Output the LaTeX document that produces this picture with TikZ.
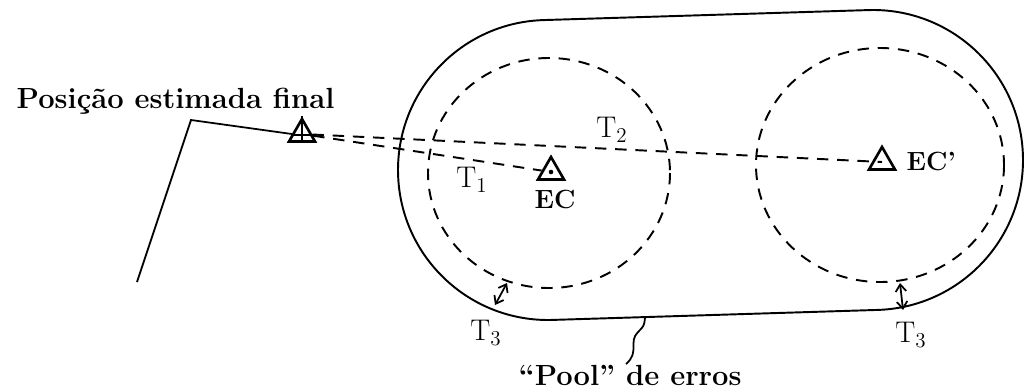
\documentclass[tikz,border=0pt]{standalone}
\usepackage{tikz}
\usetikzlibrary{arrows.meta,calc,shapes.geometric}

\tikzset{
  estac/.style={draw,regular polygon,regular polygon sides=3,minimum size=0.6cm,inner sep=0pt,line width=1.5pt},
  rotulo/.style={font=\fontsize{16.6}{20}\selectfont\bfseries},
  sigla/.style={font=\fontsize{15}{17}\selectfont\bfseries},
  tempo/.style={font=\fontsize{17}{20}\selectfont},
  raio/.style={dash pattern=on 6.5pt off 5pt,line width=1.1pt},
}

\begin{document}
\begin{tikzpicture}[x=0.02cm,y=-0.02cm,line width=1pt,>={Straight Barb[length=4pt,width=6pt]}]
  \useasboundingbox (0,0) rectangle (1024,389);
  \coordinate (A) at (548,170);
  \coordinate (B) at (873,160);
  \draw[line width=1.1pt] ($(A)+(-91.76:150)$) -- ($(B)+(-91.76:150)$)
    arc[start angle=-91.76,end angle=88.24,radius=150] -- ($(A)+(88.24:150)$)
    arc[start angle=88.24,end angle=268.24,radius=150] -- cycle;
  \draw[raio] (549,173) ellipse[x radius=121,y radius=115];
  \draw[raio] (880,165) ellipse[x radius=124,y radius=117];

  \node[estac] (fin) at (302,134) {};
  \node[estac] (ec) at (551,172) {};
  \node[estac] (ecp) at (882,162) {};
  \fill (ec.center) circle (1.3pt);
  \draw (fin.corner 1) -- (fin.side 2);
  \draw ($(fin.corner 2)!0.3!(fin.corner 1)$) -- ($(fin.corner 3)!0.3!(fin.corner 1)$);

  \coordinate (pe) at (137,282);
  \coordinate (joelho) at (191,120);
  \draw (pe) -- (joelho) -- (fin.west);
  \draw[raio] (fin) -- (ec);
  \draw[raio] (fin) -- (ecp.center);

  \node[rotulo,anchor=base west] (titulo) at (10,108) {Posição estimada final};
  \node[tempo] (t1) at (472,180) {T$_1$};
  \node[tempo] (t2) at (612,130) {T$_2$};
  \node[tempo] (t3a) at (486,333) {T$_3$};
  \node[tempo] (t3b) at (911,335) {T$_3$};
  \node[sigla] (ecl) at (555,199) {EC};
  \node[sigla,anchor=west] (ecpl) at (900,161) {EC'};
  \node[rotulo,anchor=base west] (pool) at (512,385) {``Pool'' de erros};

  \coordinate (d1) at (507,283);
  \coordinate (s1) at (495,305);
  \draw[<->] (d1) -- (s1);
  \coordinate (d2) at (900,283);
  \coordinate (s2) at (903,310);
  \draw[<->] (d2) -- (s2);

  \coordinate (onda) at (626,364);
  \coordinate (borda) at (645,318);
  \draw (onda) .. controls (640,352) and (628,342) .. (638,332) .. controls (644,326) .. (borda);
\end{tikzpicture}
\end{document}
